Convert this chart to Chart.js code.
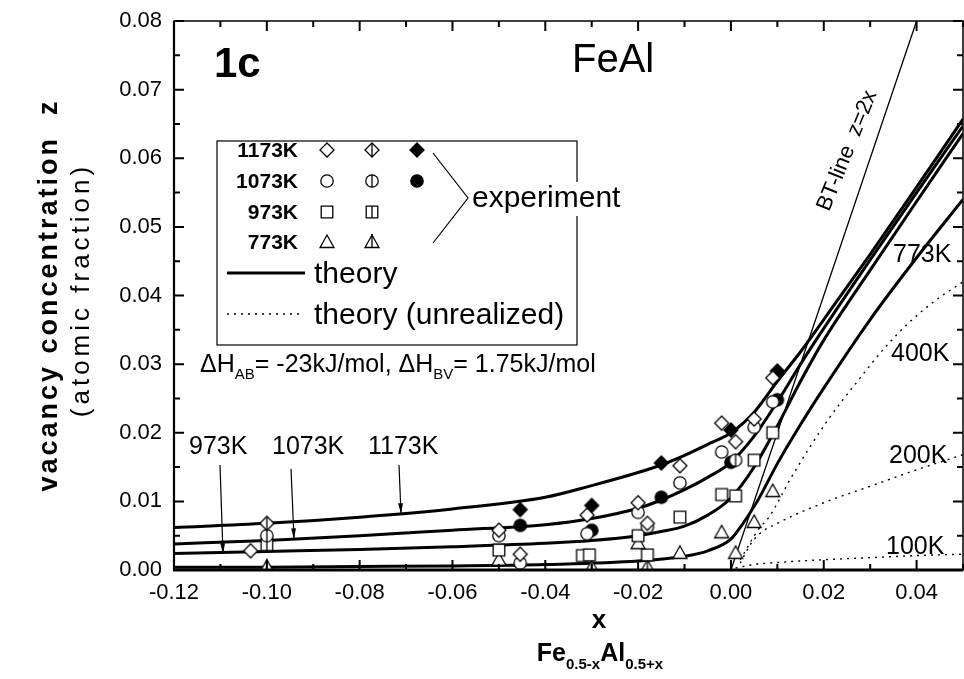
<!DOCTYPE html>
<html>
<head>
<meta charset="utf-8">
<script src="https://cdn.jsdelivr.net/npm/chart.js@4.4.0/dist/chart.umd.min.js"></script>
<style>body{margin:0;background:#fff}</style>
</head>
<body>
<canvas id="c" width="964" height="679"></canvas>
<script>
// tick labels
var xTicks = [-0.12, -0.10, -0.08, -0.06, -0.04, -0.02, 0.00, 0.02, 0.04];
var yTicks = [0.00, 0.01, 0.02, 0.03, 0.04, 0.05, 0.06, 0.07, 0.08];

// theory curves (solid)
var xTheory = [-0.12, -0.10, -0.08, -0.06, -0.04, -0.03, -0.02, -0.015, -0.01, -0.005, 0, 0.005, 0.01, 0.015, 0.02, 0.03, 0.04, 0.05];
var z1173 = [0.0062, 0.0068, 0.0077, 0.0089, 0.0106, 0.0123, 0.0142, 0.0153, 0.0167, 0.0183, 0.0200, 0.0230, 0.0275, 0.0318, 0.0365, 0.0460, 0.0558, 0.0657];
var z1073 = [0.0038, 0.0043, 0.0050, 0.0058, 0.0066, 0.0075, 0.0090, 0.0102, 0.0117, 0.0135, 0.0157, 0.0195, 0.0245, 0.0300, 0.0352, 0.0452, 0.0550, 0.0647];
var z973 = [0.0024, 0.0027, 0.0030, 0.0034, 0.0039, 0.0043, 0.0050, 0.0056, 0.0064, 0.0080, 0.0105, 0.0150, 0.0210, 0.0275, 0.0335, 0.0437, 0.0537, 0.0636];
var x773 = [-0.12, -0.10, -0.08, -0.06, -0.04, -0.02, -0.01, -0.005, 0, 0.002, 0.004, 0.006, 0.01, 0.015, 0.02, 0.03, 0.04, 0.05];
var z773 = [0.0004, 0.0004, 0.0005, 0.0006, 0.0008, 0.0013, 0.0020, 0.0028, 0.0045, 0.0062, 0.0082, 0.0104, 0.0155, 0.0212, 0.0265, 0.0365, 0.0455, 0.0540];

// BT-line z=2x
var xBT = [0, 0.04];
var zBT = [0, 0.08];

// theory (unrealized), dotted
var x400 = [0.002, 0.006, 0.0082, 0.0131, 0.0204, 0.0275, 0.0333, 0.0383, 0.0441, 0.05];
var z400 = [0.0015, 0.0060, 0.0077, 0.0136, 0.0214, 0.0277, 0.0325, 0.0360, 0.0393, 0.0420];
var x200 = [0.002, 0.004, 0.006, 0.01, 0.02, 0.03, 0.04, 0.05];
var z200 = [0.0010, 0.0035, 0.0052, 0.0068, 0.0098, 0.0122, 0.0146, 0.0168];
var x100 = [0.001, 0.005, 0.01, 0.02, 0.03, 0.04, 0.05];
var z100 = [0.0003, 0.0008, 0.0011, 0.0015, 0.0018, 0.0021, 0.0023];

// experiment points [x, z]
var d1173Open = [[-0.1035, 0.0028], [-0.05, 0.0058], [-0.0454, 0.0023], [-0.031, 0.0080], [-0.020, 0.0098], [-0.018, 0.0068], [-0.011, 0.0152], [-0.002, 0.0214], [0.001, 0.0187], [0.005, 0.0220], [0.009, 0.0280]];
var d1173Cross = [[-0.10, 0.0068]];
var d1173Filled = [[-0.0454, 0.0088], [-0.030, 0.0094], [-0.015, 0.0156], [0.0, 0.0204], [0.010, 0.0290]];
var d1073Open = [[-0.05, 0.0050], [-0.0454, 0.0010], [-0.031, 0.0053], [-0.020, 0.0084], [-0.018, 0.0063], [-0.011, 0.0127], [-0.002, 0.0172], [0.005, 0.0208], [0.009, 0.0245]];
var d1073Cross = [[-0.10, 0.0050], [0.001, 0.0160]];
var d1073Filled = [[-0.0454, 0.0065], [-0.030, 0.0058], [-0.015, 0.0106], [0.0, 0.0157], [0.010, 0.0248]];
var d973Open = [[-0.05, 0.0029], [-0.032, 0.0021], [-0.0305, 0.0022], [-0.020, 0.0050], [-0.018, 0.0022], [-0.011, 0.0077], [-0.002, 0.0110], [0.001, 0.0108], [0.005, 0.0160], [0.009, 0.0200]];
var d973Cross = [[-0.10, 0.0037]];
var d773Open = [[-0.05, 0.0015], [-0.020, 0.0039], [-0.011, 0.0025], [-0.002, 0.0055], [0.001, 0.0025], [0.005, 0.0070], [0.009, 0.0115]];
var d773Cross = [[-0.10, 0.0005], [-0.030, 0.0004], [-0.018, 0.0005]];

var FONT = 'Liberation Sans, Arial, sans-serif';

function pts(a) { return a.map(function (p) { return { x: p[0], y: p[1] }; }); }
function curve(xs, zs) { return xs.map(function (v, i) { return { x: v, y: zs[i] }; }); }

// marker images: shape = diamond|circle|square|triangle, kind = open|cross|filled
function marker(shape, kind) {
    var s = 20, m = 10;
    var c = document.createElement('canvas');
    c.width = s; c.height = s;
    var g = c.getContext('2d');
    g.lineWidth = 1.3;
    g.strokeStyle = '#000';
    g.fillStyle = kind == 'filled' ? '#000' : '#fff';
    g.beginPath();
    var top, bot;
    if (shape == 'diamond') {
        g.moveTo(m, m - 7); g.lineTo(m + 7, m); g.lineTo(m, m + 7); g.lineTo(m - 7, m); g.closePath();
        top = m - 7; bot = m + 7;
    } else if (shape == 'circle') {
        g.arc(m, m, 6.2, 0, Math.PI * 2);
        top = m - 6.2; bot = m + 6.2;
    } else if (shape == 'square') {
        g.rect(m - 5.8, m - 5.8, 11.6, 11.6);
        top = m - 5.8; bot = m + 5.8;
    } else {
        g.moveTo(m, m - 7); g.lineTo(m + 7, m + 5.5); g.lineTo(m - 7, m + 5.5); g.closePath();
        top = m - 8; bot = m + 5.5;
    }
    g.fill();
    g.stroke();
    if (kind == 'cross') {
        g.beginPath(); g.moveTo(m, top); g.lineTo(m, bot); g.stroke();
    }
    return c;
}

function pointSet(data, shape, kind) {
    return {
        data: pts(data), showLine: false, order: 0,
        pointStyle: marker(shape, kind), pointRadius: 7
    };
}
function lineSet(data, width, dash) {
    return {
        data: data, showLine: true, order: 1, pointRadius: 0,
        borderColor: '#000', borderWidth: width, borderDash: dash || [],
        cubicInterpolationMode: 'monotone', fill: false
    };
}

function drawSub(ctx, parts, x, y, align) {
    var w = 0;
    parts.forEach(function (p) { ctx.font = p.f; w += ctx.measureText(p.t).width; });
    var cx = align == 'center' ? x - w / 2 : x;
    ctx.textAlign = 'left';
    parts.forEach(function (p) {
        ctx.font = p.f;
        ctx.fillText(p.t, cx, y + (p.dy || 0));
        cx += ctx.measureText(p.t).width;
    });
}

function arrow(ctx, x1, y1, x2, y2) {
    ctx.beginPath(); ctx.moveTo(x1, y1); ctx.lineTo(x2, y2); ctx.stroke();
    var a = Math.atan2(y2 - y1, x2 - x1);
    ctx.beginPath();
    ctx.moveTo(x2, y2);
    ctx.lineTo(x2 - 11 * Math.cos(a - 0.22), y2 - 11 * Math.sin(a - 0.22));
    ctx.lineTo(x2 - 11 * Math.cos(a + 0.22), y2 - 11 * Math.sin(a + 0.22));
    ctx.closePath(); ctx.fill();
}

var decor = {
    id: 'decor',
    afterDraw: function (chart) {
        var ctx = chart.ctx, a = chart.chartArea;
        var xs = chart.scales.x, ys = chart.scales.y;
        ctx.save();
        ctx.strokeStyle = '#000'; ctx.fillStyle = '#000';

        // frame
        ctx.lineWidth = 1.5;
        ctx.strokeRect(a.left, a.top, a.right - a.left, a.bottom - a.top);
        ctx.lineWidth = 3;
        ctx.beginPath(); ctx.moveTo(a.left - 1, a.bottom); ctx.lineTo(a.right, a.bottom); ctx.stroke();
        ctx.lineWidth = 2.2;
        ctx.beginPath(); ctx.moveTo(a.left, a.top); ctx.lineTo(a.left, a.bottom); ctx.stroke();

        // ticks, inward, on all four sides
        ctx.lineWidth = 2;
        for (var i = 0; i <= 17; i++) {
            var v = -0.12 + i * 0.01;
            var px = xs.getPixelForValue(v), len = i % 2 == 0 ? 10 : 6;
            ctx.beginPath();
            ctx.moveTo(px, a.bottom); ctx.lineTo(px, a.bottom - len);
            ctx.moveTo(px, a.top); ctx.lineTo(px, a.top + len);
            ctx.stroke();
        }
        for (var j = 0; j <= 16; j++) {
            var w = j * 0.005;
            var py = ys.getPixelForValue(w), ln = j % 2 == 0 ? 10 : 6;
            ctx.beginPath();
            ctx.moveTo(a.left, py); ctx.lineTo(a.left + ln, py);
            ctx.moveTo(a.right, py); ctx.lineTo(a.right - ln, py);
            ctx.stroke();
        }

        ctx.textBaseline = 'alphabetic';
        // titles inside plot
        ctx.font = 'bold 42px ' + FONT; ctx.textAlign = 'left';
        ctx.fillText('1c', 214, 77);
        ctx.font = '40px ' + FONT;
        ctx.fillText('FeAl', 572, 72);

        // legend box
        ctx.lineWidth = 1.2;
        ctx.strokeRect(217, 141, 360, 204);
        ctx.font = 'bold 21px ' + FONT; ctx.textAlign = 'right';
        var rows = [['1173K', 'diamond', 157], ['1073K', 'circle', 188], ['973K', 'square', 219], ['773K', 'triangle', 249]];
        rows.forEach(function (r) {
            ctx.fillText(r[0], 298, r[2]);
            ctx.drawImage(marker(r[1], 'open'), 317, r[2] - 17);
            ctx.drawImage(marker(r[1], 'cross'), 362, r[2] - 17);
            if (r[1] == 'diamond' || r[1] == 'circle') ctx.drawImage(marker(r[1], 'filled'), 407, r[2] - 17);
        });
        // bracket
        ctx.lineWidth = 1.2;
        ctx.beginPath(); ctx.moveTo(433, 153); ctx.lineTo(468, 198); ctx.lineTo(433, 243); ctx.stroke();
        ctx.font = '30px ' + FONT; ctx.textAlign = 'left';
        ctx.fillStyle = '#fff';
        ctx.fillRect(471, 182, ctx.measureText('experiment').width + 2, 34);
        ctx.fillStyle = '#000';
        ctx.fillText('experiment', 472, 207);
        ctx.lineWidth = 3;
        ctx.beginPath(); ctx.moveTo(227, 273); ctx.lineTo(305, 273); ctx.stroke();
        ctx.fillText('theory', 314, 283);
        ctx.lineWidth = 1.3; ctx.setLineDash([2, 5]);
        ctx.beginPath(); ctx.moveTo(227, 314); ctx.lineTo(301, 314); ctx.stroke();
        ctx.setLineDash([]);
        ctx.fillText('theory (unrealized)', 314, 324);

        // enthalpy note
        var f1 = '25px ' + FONT, f2 = '15px ' + FONT;
        drawSub(ctx, [{ t: '\u0394H', f: f1 }, { t: 'AB', f: f2, dy: 7 }, { t: '= -23kJ/mol, \u0394H', f: f1 },
            { t: 'BV', f: f2, dy: 7 }, { t: '= 1.75kJ/mol', f: f1 }], 200, 372, 'left');

        // temperature labels with arrows
        ctx.font = '25px ' + FONT;
        ctx.fillText('973K', 189, 454);
        ctx.fillText('1073K', 272, 454);
        ctx.fillText('1173K', 368, 454);
        ctx.lineWidth = 1.2;
        arrow(ctx, 220, 465, 223, 554);
        arrow(ctx, 291, 469, 294, 539);
        arrow(ctx, 399, 465, 401, 514);

        ctx.fillText('773K', 893, 262);
        ctx.fillText('400K', 891, 361);
        ctx.fillText('200K', 889, 463);
        ctx.fillText('100K', 886, 554);

        // BT-line label along the line
        ctx.save();
        ctx.translate(853, 153);
        ctx.rotate(-68 * Math.PI / 180);
        ctx.font = '22px ' + FONT; ctx.textAlign = 'center';
        ctx.fillText('BT-line  z=2x', 0, 0);
        ctx.restore();

        // axis titles
        ctx.save();
        ctx.translate(57, 295);
        ctx.rotate(-Math.PI / 2);
        ctx.textAlign = 'center';
        ctx.letterSpacing = '3px';
        ctx.font = 'bold 27px ' + FONT;
        ctx.fillText('vacancy concentration  z', 0, 0);
        ctx.letterSpacing = '4px';
        ctx.font = '26px ' + FONT;
        ctx.fillText('(atomic fraction)', 5, 32);
        ctx.restore();
        ctx.letterSpacing = '0px';

        ctx.textAlign = 'center';
        ctx.font = 'bold 26px ' + FONT;
        ctx.fillText('x', 599, 628);
        var b1 = 'bold 25px ' + FONT, b2 = 'bold 15px ' + FONT;
        drawSub(ctx, [{ t: 'Fe', f: b1 }, { t: '0.5-x', f: b2, dy: 8 }, { t: 'Al', f: b1 }, { t: '0.5+x', f: b2, dy: 8 }], 600, 661, 'center');
        ctx.restore();
    }
};

new Chart(document.getElementById('c').getContext('2d'), {
    type: 'scatter',
    data: {
        datasets: [
            pointSet(d1173Open, 'diamond', 'open'),
            pointSet(d1173Cross, 'diamond', 'cross'),
            pointSet(d1173Filled, 'diamond', 'filled'),
            pointSet(d1073Open, 'circle', 'open'),
            pointSet(d1073Cross, 'circle', 'cross'),
            pointSet(d1073Filled, 'circle', 'filled'),
            pointSet(d973Open, 'square', 'open'),
            pointSet(d973Cross, 'square', 'cross'),
            pointSet(d773Open, 'triangle', 'open'),
            pointSet(d773Cross, 'triangle', 'cross'),
            lineSet(curve(xTheory, z1173), 3),
            lineSet(curve(xTheory, z1073), 3),
            lineSet(curve(xTheory, z973), 3),
            lineSet(curve(x773, z773), 3),
            lineSet(curve(xBT, zBT), 1.3),
            lineSet(curve(x400, z400), 1.4, [2, 5]),
            lineSet(curve(x200, z200), 1.4, [2, 5]),
            lineSet(curve(x100, z100), 1.4, [2, 5])
        ]
    },
    options: {
        responsive: false,
        animation: false,
        devicePixelRatio: 1,
        layout: { autoPadding: false, padding: { top: 21, right: 1, left: 0, bottom: 0 } },
        plugins: { legend: { display: false }, tooltip: { enabled: false } },
        scales: {
            x: {
                type: 'linear', min: -0.12, max: 0.05,
                grid: { display: false, drawTicks: false },
                border: { display: false },
                ticks: {
                    color: '#000', font: { size: 22, family: FONT }, padding: 10,
                    maxRotation: 0, autoSkip: false,
                    callback: function (v) { return v.toFixed(2); }
                },
                afterBuildTicks: function (s) { s.ticks = xTicks.map(function (v) { return { value: v }; }); },
                afterFit: function (s) { s.height = 109; s.paddingLeft = 0; s.paddingRight = 0; }
            },
            y: {
                type: 'linear', min: 0, max: 0.08,
                grid: { display: false, drawTicks: false },
                border: { display: false },
                ticks: {
                    color: '#000', font: { size: 22, family: FONT }, padding: 12,
                    autoSkip: false,
                    callback: function (v) { return v.toFixed(2); }
                },
                afterBuildTicks: function (s) { s.ticks = yTicks.map(function (v) { return { value: v }; }); },
                afterFit: function (s) { s.width = 174; s.paddingTop = 0; s.paddingBottom = 0; }
            }
        }
    },
    plugins: [decor]
});
</script>
</body>
</html>
